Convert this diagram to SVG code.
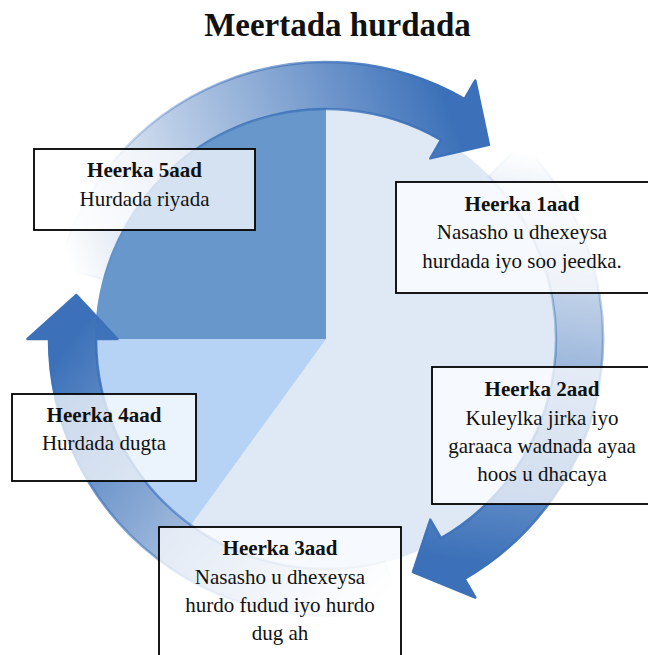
<svg xmlns="http://www.w3.org/2000/svg" width="648" height="655" viewBox="0 0 648 655">
<style>
.box{fill:#ffffff;fill-opacity:0.72;stroke:#000;stroke-width:1.8}
.t{font-family:"Liberation Serif","Times New Roman",serif;font-size:21px;fill:#111;text-anchor:middle}
.b{font-weight:bold}
.title{font-family:"Liberation Serif","Times New Roman",serif;font-size:33px;font-weight:bold;fill:#111;text-anchor:middle}
.arr{stroke-width:2.5;stroke-linejoin:round}
</style>
<defs>
<linearGradient id="g1" gradientUnits="userSpaceOnUse" x1="70" y1="264" x2="452" y2="120">
<stop offset="0" stop-color="#3c71b9" stop-opacity="0"/>
<stop offset="1" stop-color="#3c71b9" stop-opacity="1"/>
</linearGradient>
<linearGradient id="g2" gradientUnits="userSpaceOnUse" x1="512" y1="150" x2="452" y2="558">
<stop offset="0" stop-color="#3c71b9" stop-opacity="0"/>
<stop offset="1" stop-color="#3c71b9" stop-opacity="1"/>
</linearGradient>
<linearGradient id="g3" gradientUnits="userSpaceOnUse" x1="395" y1="590" x2="73" y2="339">
<stop offset="0" stop-color="#3c71b9" stop-opacity="0"/>
<stop offset="1" stop-color="#3c71b9" stop-opacity="1"/>
</linearGradient>
</defs>
<rect width="648" height="655" fill="#ffffff"/>
<text class="title" x="337.5" y="36">Meertada hurdada</text>
<g id="pie">
<circle cx="326" cy="339" r="231" fill="#dfe9f6"/>
<path d="M326,339 L326,108 A231,231 0 0,0 95,339 Z" fill="#6897cb"/>
<path d="M326,339 L95,339 A231,231 0 0,0 190.2,525.9 Z" fill="#b6d2f4"/>
</g>
<g id="connectors">
<path id="arrow1" class="arr" fill="url(#g1)" stroke="url(#g1)" d="M58.4,267.3 A277,277 0 0,1 464.5,99.1 L475.3,80.5 L488.9,144.8 L430.3,158.4 L441,139.8 A230,230 0 0,0 103.8,279.5 Z"/>
<path id="arrow2" class="arr" fill="url(#g2)" stroke="url(#g2)" d="M521.9,143.1 A277,277 0 0,1 464.5,578.9 L475.3,597.5 L413,572 L430.3,519.6 L441,538.2 A230,230 0 0,0 488.6,176.4 Z"/>
<path id="arrow3" class="arr" fill="url(#g3)" stroke="url(#g3)" d="M397.7,606.6 A277,277 0 0,1 49,339 L27.5,339 L76.4,295 L117.5,339 L96,339 A230,230 0 0,0 385.5,561.2 Z"/>
</g>
<g id="stage5">
<rect class="box" x="34" y="149" width="221" height="81"/>
<text class="t b" x="144.5" y="177">Heerka 5aad</text>
<text class="t" x="144.5" y="205.5">Hurdada riyada</text>
</g>
<g id="stage1">
<rect class="box" x="396" y="182" width="262" height="111"/>
<text class="t b" x="522" y="210.5">Heerka 1aad</text>
<text class="t" x="522" y="239">Nasasho u dhexeysa</text>
<text class="t" x="522" y="267.5">hurdada iyo soo jeedka.</text>
</g>
<g id="stage2">
<rect class="box" x="432" y="367" width="226" height="137"/>
<text class="t b" x="542" y="396">Heerka 2aad</text>
<text class="t" x="542" y="424.5">Kuleylka jirka iyo</text>
<text class="t" x="542" y="453">garaaca wadnada ayaa</text>
<text class="t" x="542" y="481">hoos u dhacaya</text>
</g>
<g id="stage4">
<rect class="box" x="12" y="394" width="184" height="87"/>
<text class="t b" x="104" y="421.5">Heerka 4aad</text>
<text class="t" x="104" y="450">Hurdada dugta</text>
</g>
<g id="stage3">
<rect class="box" x="159" y="527" width="242" height="140"/>
<text class="t b" x="280" y="555">Heerka 3aad</text>
<text class="t" x="280" y="583.5">Nasasho u dhexeysa</text>
<text class="t" x="280" y="612">hurdo fudud iyo hurdo</text>
<text class="t" x="280" y="640">dug ah</text>
</g>
</svg>
